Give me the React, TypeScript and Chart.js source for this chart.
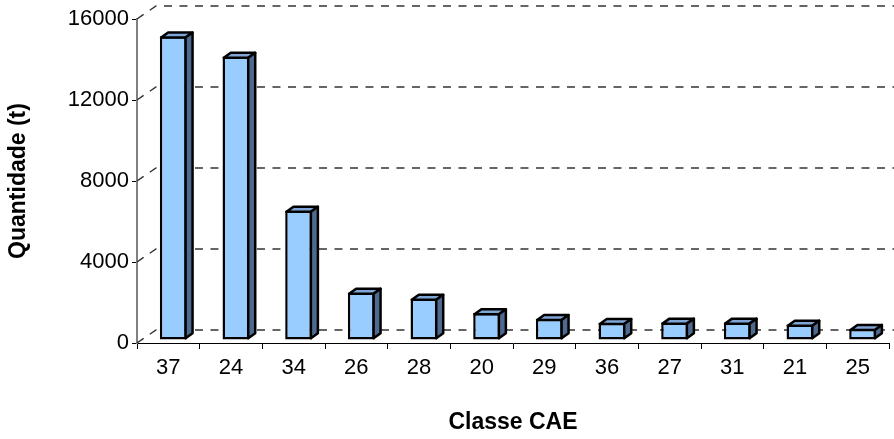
import React, { useEffect, useRef } from 'react';
import { Chart, registerables } from 'chart.js';

Chart.register(...registerables);

const categories = ['37', '24', '34', '26', '28', '20', '29', '36', '27', '31', '21', '25'];
const quantities = [15000, 14000, 6400, 2350, 2050, 1330, 1050, 850, 870, 870, 770, 560];
const yTicks = [0, 4000, 8000, 12000, 16000];
const xTitle = 'Classe CAE';
const yTitle = 'Quantidade (t)';

const FONT = "'Liberation Sans', Arial, sans-serif";
const FRONT = '#99CCFF';
const TOP = '#7FA6D6';
const SIDE = '#4F6A8F';
const WALL_DX = 19;
const WALL_DY = -13;
const BAR_SHIFT_X = 5;
const BAR_SHIFT_Y = -3;
const DEPTH_DX = 7;
const DEPTH_DY = -5;

const threeD = {
  id: 'threeD',
  beforeDatasetsDraw(chart: any) {
    const { ctx, chartArea, scales } = chart;
    const y = scales.y;
    ctx.save();
    ctx.setLineDash([8, 7.5]);
    ctx.strokeStyle = '#333';
    ctx.lineWidth = 1.5;
    yTicks.forEach((v) => {
      const py = y.getPixelForValue(v);
      ctx.beginPath();
      ctx.moveTo(chartArea.left, py);
      ctx.lineTo(chartArea.left + WALL_DX, py + WALL_DY);
      ctx.lineTo(chart.width, py + WALL_DY);
      ctx.stroke();
    });
    ctx.restore();
    ctx.save();
    ctx.translate(BAR_SHIFT_X, BAR_SHIFT_Y);
  },
  afterDatasetsDraw(chart: any) {
    const ctx = chart.ctx;
    const meta = chart.getDatasetMeta(0);
    ctx.lineWidth = 2.5;
    ctx.strokeStyle = '#000';
    ctx.lineJoin = 'round';
    meta.data.forEach((bar: any) => {
      const { x, y, base, width } = bar.getProps(['x', 'y', 'base', 'width'], true);
      const xl = x - width / 2 + 1.25;
      const xr = x + width / 2 - 1.25;
      const yt = y + 1.25;
      const yb = base - 1.25;
      ctx.beginPath();
      ctx.moveTo(xl, yt);
      ctx.lineTo(xr, yt);
      ctx.lineTo(xr + DEPTH_DX, yt + DEPTH_DY);
      ctx.lineTo(xl + DEPTH_DX, yt + DEPTH_DY);
      ctx.closePath();
      ctx.fillStyle = TOP;
      ctx.fill();
      ctx.stroke();
      ctx.beginPath();
      ctx.moveTo(xr, yt);
      ctx.lineTo(xr + DEPTH_DX, yt + DEPTH_DY);
      ctx.lineTo(xr + DEPTH_DX, yb + DEPTH_DY);
      ctx.lineTo(xr, yb);
      ctx.closePath();
      ctx.fillStyle = SIDE;
      ctx.fill();
      ctx.stroke();
    });
    ctx.restore();
  },
};

export default function App() {
  const ref = useRef<HTMLCanvasElement>(null);
  useEffect(() => {
    document.body.style.margin = '0';
    const chart = new Chart(ref.current!, {
      type: 'bar',
      data: {
        labels: categories,
        datasets: [
          {
            data: quantities,
            backgroundColor: FRONT,
            borderColor: '#000',
            borderWidth: 2.5,
            borderSkipped: false,
            categoryPercentage: 1,
            barPercentage: 0.43,
          },
        ],
      },
      options: {
        responsive: false,
        animation: false,
        layout: { padding: { top: 19, right: 5, left: 0, bottom: 0 } },
        plugins: { legend: { display: false }, tooltip: { enabled: false } },
        scales: {
          x: {
            grid: { offset: true, drawOnChartArea: false, tickLength: 6, color: '#000', lineWidth: 1 },
            border: { color: '#000', width: 1 },
            ticks: { font: { family: FONT, size: 22 }, color: '#000', padding: 6, maxRotation: 0 },
            title: {
              display: true,
              text: xTitle,
              font: { family: FONT, size: 23, weight: 'bold' },
              color: '#000',
              padding: 3,
            },
            afterFit(s: any) {
              s.height = 96;
            },
          },
          y: {
            min: 0,
            max: 16000,
            afterBuildTicks(s: any) {
              s.ticks = yTicks.map((v) => ({ value: v }));
            },
            grid: { drawOnChartArea: false, tickLength: 5, color: '#000', lineWidth: 1 },
            border: { color: '#808080', width: 2 },
            ticks: {
              font: { family: FONT, size: 22 },
              color: '#000',
              padding: 3,
              callback: (v: any) => String(v),
            },
            title: {
              display: true,
              text: yTitle,
              font: { family: FONT, size: 23, weight: 'bold' },
              color: '#000',
              padding: 5,
            },
            afterFit(s: any) {
              s.width = 137;
            },
          },
        },
      },
      plugins: [threeD],
    });
    return () => chart.destroy();
  }, []);
  return (
    <div style={{ position: 'fixed', left: 0, top: 0 }}>
      <canvas ref={ref} width={894} height={439} />
    </div>
  );
}
